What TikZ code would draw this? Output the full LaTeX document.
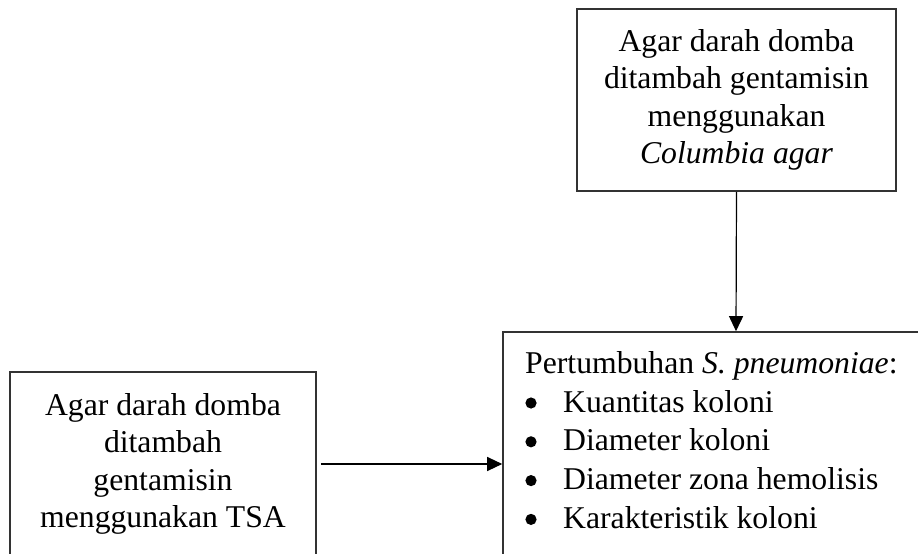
\documentclass[tikz,border=0pt]{standalone}
\usepackage{fontspec}
\setmainfont{Liberation Serif}
\usetikzlibrary{arrows.meta}
\begin{document}
\begin{tikzpicture}[x=1pt,y=-1pt,
    box/.style={draw=black!80,line width=1.6pt,inner sep=0pt,align=center,
      font=\fontsize{31.7}{37.5}\selectfont},
    arr/.style={-{Triangle[length=15pt,width=14pt]},line width=1.2pt}]
  \useasboundingbox (0,0) rectangle (918,554);
  \clip (0,0) rectangle (918,554);
  \node[box,minimum width=319pt,minimum height=182pt] (1) at (736.5,100)
    {Agar darah domba\\ditambah gentamisin\\menggunakan\\\textit{Columbia agar}};
  \node[box,minimum width=306pt,minimum height=184pt] (2) at (163,464)
    {Agar darah domba\\ditambah\\gentamisin\\menggunakan TSA};
  \node[box,minimum width=466pt,minimum height=264pt] (3) at (736,464) {};
  \node[anchor=north west,inner sep=0pt,align=left,
    font=\fontsize{31.7}{38.8}\selectfont] (4) at (525,351)
    {Pertumbuhan \textit{S. pneumoniae}:\\
     \hspace{38pt}Kuantitas koloni\\
     \hspace{38pt}Diameter koloni\\
     \hspace{38pt}Diameter zona hemolisis\\
     \hspace{38pt}Karakteristik koloni};
  % bullets
  \foreach \i in {0,...,3}
    \fill (531,403+38.8*\i) circle (5.6pt);
  \begin{scope}[arr]
    \draw (1.south) to (3.north);
    \draw[shorten <=4pt] (2.east) to (3.west);
  \end{scope}
\end{tikzpicture}
\end{document}
